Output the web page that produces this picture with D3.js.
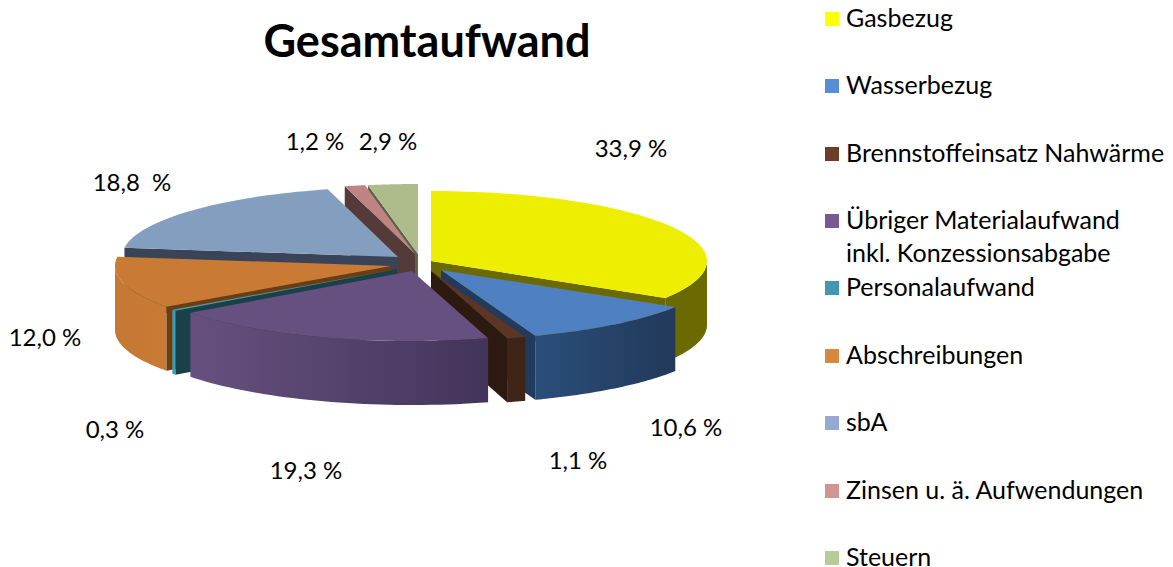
<!DOCTYPE html>
<html><head><meta charset="utf-8">
<script src="https://cdnjs.cloudflare.com/ajax/libs/d3/7.8.5/d3.min.js"></script>
<style>html,body{margin:0;padding:0;background:#fff}svg{display:block}text{font-family:Lato,"Open Sans",sans-serif;fill:#000;white-space:pre}</style>
</head><body><svg id="c" width="1173" height="567"></svg>
<script>
const title = "Gesamtaufwand";
const categories = ["Gasbezug","Wasserbezug","Brennstoffeinsatz Nahwärme","Übriger Materialaufwand\ninkl. Konzessionsabgabe","Personalaufwand","Abschreibungen","sbA","Zinsen u. ä. Aufwendungen","Steuern"];
const values = [33.9,10.6,1.1,19.3,0.3,12.0,18.8,1.2,2.9];
const valueLabels = ["33,9 %","10,6 %","1,1 %","19,3 %","0,3 %","12,0 %","18,8  %","1,2 %","2,9 %"];

// styles and layout, separate from the data
const legendColors = ["#ffff00","#558ed5","#6b3f27","#775a96","#4198af","#d8873f","#95a9d2","#d29490","#b5cc94"];
const topColors  = ["#eeee00","#4f81c2","#5c3524","#66507f","#3f9db3","#c97a35","#849ebf","#bf8481","#adbc8a"];
const cutColors  = ["#6a6a00","#223a5c","#2c190f","#43345a","#1a404a","#6b3d10","#3a4458","#553a3a","#5a6547"];
const wallFrom   = ["#6a6a00","#2a4e7a","#3e2518","#67507f","#3f9db3","#c57833","#3a4458","#553a3a","#5a6547"];
const wallTo     = ["#6a6a00","#22395a","#3e2518","#43345a","#3f9db3","#c97b36","#3a4458","#553a3a","#5a6547"];
const hubX = [431,441,431,412,397,391,398,415,418];
const hubY = [261,270,271,271,269,266,257,254,254];
const drawOrder = [8,7,6,5,4,0,1,2,3];
const labelX = [631,686,578,306,115,45,132,315,388];
const labelY = [157,436,469,479,438,346,191,150,150];
const legendY = [19,86,154,221,288,356,423,491,558];
const RX = 276, RY = 70, DEPTH = 64;

const svg = d3.select("#c");
const defs = svg.append("defs");
const pie = d3.pie().sort(null).value(d=>d)(values);
const px = d3.scaleLinear().domain([-1,1]).range([-RX,RX]);
const py = d3.scaleLinear().domain([-1,1]).range([-RY,RY]);
const pt = (i,a,dz=0)=>[hubX[i]+px(Math.sin(a)), hubY[i]-py(Math.cos(a))+dz];
const arcPts = (i,a0,a1,dz=0)=>d3.range(0,41).map(k=>pt(i,a0+(a1-a0)*k/40,dz));
const line = d3.line();

drawOrder.forEach(i=>{
  const d = pie[i], a0=d.startAngle, a1=d.endAngle;
  const g = svg.append("g");
  const hub=[hubX[i],hubY[i]], hubB=[hubX[i],hubY[i]+DEPTH];
  if(Math.sin(a0)<0) g.append("path").attr("d",line([hub,pt(i,a0),pt(i,a0,DEPTH),hubB])+"Z").attr("fill",cutColors[i]);
  if(Math.sin(a1)>0) g.append("path").attr("d",line([hub,pt(i,a1),pt(i,a1,DEPTH),hubB])+"Z").attr("fill",cutColors[i]);
  const w0=Math.max(a0,Math.PI/2), w1=Math.min(a1,Math.PI*1.5);
  if(w1>w0){
    const top=arcPts(i,w0,w1), bot=arcPts(i,w0,w1,DEPTH).reverse();
    const xs=top.map(p=>p[0]);
    const id="w"+i;
    const gr=defs.append("linearGradient").attr("id",id).attr("gradientUnits","userSpaceOnUse")
      .attr("x1",d3.min(xs)).attr("x2",d3.max(xs)).attr("y1",0).attr("y2",0);
    gr.append("stop").attr("offset",0).attr("stop-color",wallFrom[i]);
    gr.append("stop").attr("offset",1).attr("stop-color",wallTo[i]);
    g.append("path").attr("d",line(top.concat(bot))+"Z").attr("fill",`url(#${id})`);
  }
  g.append("path").attr("d",line([hub].concat(arcPts(i,a0,a1)))+"Z").attr("fill",topColors[i]);
});

valueLabels.forEach((t,i)=>svg.append("text").attr("x",labelX[i]).attr("y",labelY[i]).attr("text-anchor","middle").attr("font-size",24).text(t));
svg.append("text").attr("x",427).attr("y",57).attr("text-anchor","middle").attr("font-size",45).attr("font-weight",700).text(title);

categories.forEach((c,i)=>{
  svg.append("rect").attr("x",825).attr("y",legendY[i]-7).attr("width",14).attr("height",14).attr("fill",legendColors[i]);
  c.split("\n").forEach((s,j)=>svg.append("text").attr("x",846).attr("y",legendY[i]+8+j*33).attr("font-size",25).text(s));
});
</script></body></html>
